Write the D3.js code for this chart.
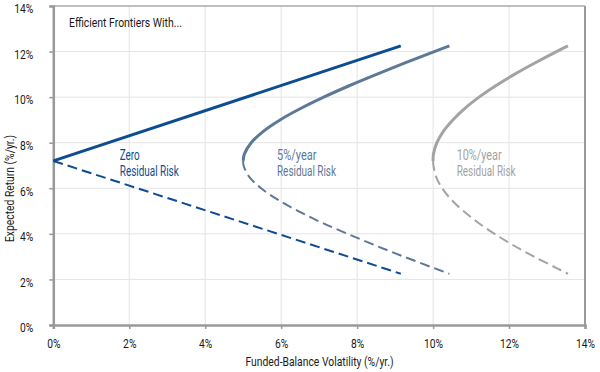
<!DOCTYPE html>
<html><head><meta charset="utf-8">
<script src="https://cdn.jsdelivr.net/npm/d3@7"></script>
<style>
html,body{margin:0;padding:0;background:#fff;}
svg text{font-family:"Roboto","Liberation Sans",sans-serif;}
</style></head>
<body><svg id="c" width="600" height="372"></svg>
<script>
// Tick values
const xTicks = [0,2,4,6,8,10,12,14];
const yTicks = [0,2,4,6,8,10,12,14];

// Frontier branches: [volatility %, return %]
const zeroUpper = [[0,7.2],[9.15,12.25]];
const zeroLower = [[0,7.2],[9.15,2.25]];
const fiveUpper = [[5.0,7.2],[5.03,7.5],[5.21,8],[5.53,8.5],[5.97,9],[6.51,9.5],[7.12,10],[7.79,10.5],[8.51,11],[9.26,11.5],[10.03,12],[10.43,12.25]];
const fiveLower = [[5.0,7.2],[5.01,7],[5.16,6.5],[5.47,6],[5.91,5.5],[6.45,5],[7.06,4.5],[7.75,4],[8.47,3.5],[9.23,3],[10.02,2.5],[10.43,2.25]];
const tenUpper = [[10.0,7.2],[10.01,7.5],[10.10,8],[10.27,8.5],[10.52,9],[10.83,9.5],[11.21,10],[11.65,10.5],[12.14,11],[12.68,11.5],[13.25,12],[13.55,12.25]];
const tenLower = [[10.0,7.2],[10.01,7],[10.08,6.5],[10.24,6],[10.48,5.5],[10.80,5],[11.18,4.5],[11.62,4],[12.11,3.5],[12.66,3],[13.25,2.5],[13.55,2.25]];

const seriesLabels = [["Zero","Residual Risk"],["5%/year","Residual Risk"],["10%/year","Residual Risk"]];
const seriesColors = ["#0d4c92","#5e7897","#a3a3a3"];
const labelPos = [[1.75,8.0],[5.89,8.0],[10.62,8.0]];

const svg = d3.select("#c");
const L=53.3, R=585, T=6, B=325;
const x = d3.scaleLinear().domain([0,14]).range([L,R]);
const y = d3.scaleLinear().domain([0,14]).range([B,T]);

function squeeze(sel, k){
  sel.each(function(){
    const w = this.getComputedTextLength();
    d3.select(this).attr("textLength", w*k).attr("lengthAdjust","spacingAndGlyphs");
  });
}
function fitTo(sel, w){ sel.attr("textLength", w).attr("lengthAdjust","spacingAndGlyphs"); }

// grid
svg.append("g").selectAll("line").data(xTicks.filter(d=>d>0&&d<14)).join("line")
  .attr("x1",d=>x(d)).attr("x2",d=>x(d)).attr("y1",T).attr("y2",B)
  .attr("stroke","#e4e4e4").attr("stroke-width",1);
svg.append("g").selectAll("line").data(yTicks.filter(d=>d>0&&d<14)).join("line")
  .attr("y1",d=>y(d)).attr("y2",d=>y(d)).attr("x1",L).attr("x2",R)
  .attr("stroke","#e4e4e4").attr("stroke-width",1);
svg.append("line").attr("x1",L).attr("x2",R).attr("y1",y(14)).attr("y2",y(14)).attr("stroke","#aaa").attr("stroke-width",1.5);
svg.append("line").attr("x1",R).attr("x2",R).attr("y1",T).attr("y2",B).attr("stroke","#999").attr("stroke-width",2);

// axes
const fmt = d=>d+"%";
const xAxis = svg.append("g").attr("transform",`translate(0,${B})`)
  .call(d3.axisBottom(x).tickValues(xTicks).tickFormat(fmt).tickSize(4).tickPadding(8));
const yAxis = svg.append("g").attr("transform",`translate(${L},0)`)
  .call(d3.axisLeft(y).tickValues(yTicks).tickFormat(fmt).tickSize(4).tickPadding(16));
[xAxis,yAxis].forEach(a=>{
  a.select(".domain").attr("stroke","#999").attr("stroke-width",2.5);
  a.selectAll(".tick line").attr("stroke","#999").attr("stroke-width",1.5);
  a.selectAll("text").attr("fill","#1a1a1a").style("font-size","13px");
  squeeze(a.selectAll("text"), 0.79);
});
xAxis.selectAll("text").attr("dy","0.85em");
yAxis.selectAll("text").attr("dy","0.52em");

// lines
const lineLin = d3.line().x(d=>x(d[0])).y(d=>y(d[1])).curve(d3.curveLinear);
const lineCurve = d3.line().x(d=>x(d[0])).y(d=>y(d[1])).curve(d3.curveCatmullRom);
const uppers=[zeroUpper,fiveUpper,tenUpper], lowers=[zeroLower,fiveLower,tenLower];
uppers.forEach((s,i)=>{
  svg.append("path").datum(s).attr("d",i===0?lineLin:lineCurve)
    .attr("fill","none").attr("stroke",seriesColors[i]).attr("stroke-width",3);
});
lowers.forEach((s,i)=>{
  svg.append("path").datum(s).attr("d",i===0?lineLin:lineCurve)
    .attr("fill","none").attr("stroke",seriesColors[i]).attr("stroke-width",2)
    .attr("stroke-dasharray","10,5");
});

// labels
const firstW = [20, 39.5, 45];
seriesLabels.forEach((lab,i)=>{
  const t = svg.append("text").attr("x",x(labelPos[i][0])).attr("y",y(labelPos[i][1])+17)
    .attr("fill",seriesColors[i]).style("font-size","14px");
  fitTo(t.append("tspan").attr("x",x(labelPos[i][0])).attr("dy",0).text(lab[0]), firstW[i]);
  fitTo(t.append("tspan").attr("x",x(labelPos[i][0])).attr("dy",16).text(lab[1]), 59);
});

fitTo(svg.append("text").attr("x",69).attr("y",27).attr("fill","#1a1a1a").style("font-size","13.5px").text("Efficient Frontiers With..."), 113);
fitTo(svg.append("text").attr("x",319.5).attr("y",366).attr("text-anchor","middle").attr("fill","#1a1a1a").style("font-size","13.5px").text("Funded-Balance Volatility (%/yr.)"), 148);
fitTo(svg.append("text").attr("transform",`translate(14,188.5) rotate(-90)`).attr("text-anchor","middle").attr("fill","#1a1a1a").style("font-size","13.5px").text("Expected Return (%/yr.)"), 107);
</script></body></html>
